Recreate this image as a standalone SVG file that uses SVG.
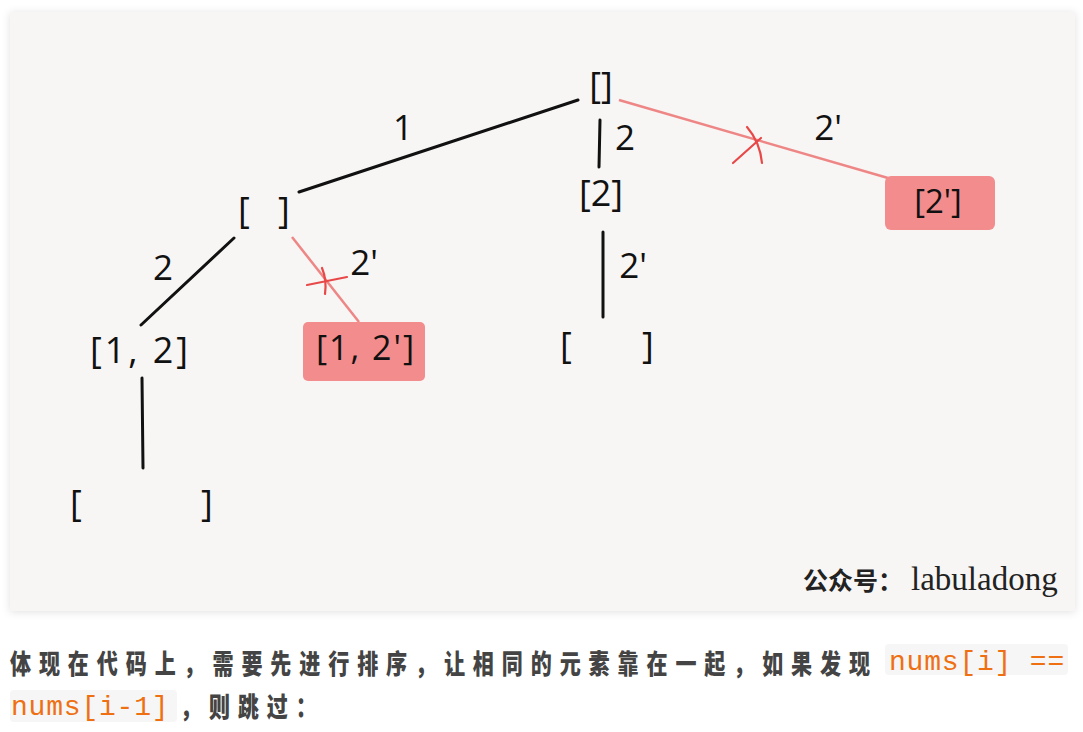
<svg xmlns="http://www.w3.org/2000/svg" width="1083" height="732" viewBox="0 0 1083 732">
<defs>
<style>
.t{font-family:"Open Sans","Liberation Sans",sans-serif;font-size:36px;font-weight:500;fill:#111}
.lb{font-family:"Open Sans","Liberation Sans",sans-serif;font-size:35px;font-weight:500;fill:#111;text-anchor:middle}
.edge{stroke:#111;stroke-width:3;stroke-linecap:round;fill:none}
.red{stroke:#ee8686;stroke-width:2.5;fill:none}
.x{stroke:#e84848;stroke-width:2.2;fill:none;stroke-linecap:round}
.box{fill:#f38c8c}
.cjk{font-family:"Noto Sans CJK SC","Noto Sans",sans-serif;font-weight:900;font-size:27px;fill:#444;letter-spacing:10.1px}
.code{font-family:"Liberation Mono",monospace;font-size:28px;fill:#ee7012;letter-spacing:0.8px}
.cbg{fill:#f6f6f6}
</style>
<filter id="sh" x="-5%" y="-5%" width="110%" height="110%">
<feDropShadow dx="0" dy="1" stdDeviation="4" flood-color="#000" flood-opacity="0.12"/>
</filter>
</defs>
<rect width="1083" height="732" fill="#ffffff"/>
<rect x="10" y="12" width="1065" height="599" fill="#f7f6f4" filter="url(#sh)"/>

<g id="connectors">
<line class="edge" x1="578" y1="100" x2="299" y2="192"/>
<line class="edge" x1="600" y1="120" x2="599" y2="167"/>
<line class="red" x1="619" y1="100" x2="888" y2="178"/>
<line class="edge" x1="234" y1="238" x2="141" y2="325"/>
<line class="red" x1="292" y1="237" x2="359" y2="322"/>
<line class="edge" x1="142" y1="378" x2="143" y2="468"/>
<line class="edge" x1="603" y1="232" x2="603" y2="317"/>
<path class="x" d="M733 163 L761 138"/>
<path class="x" d="M747 127 Q760 142 762 163"/>
<path class="x" d="M307 285 L347 277"/>
<path class="x" d="M322 268 Q327 280 325 294"/>
<text class="lb" x="403" y="140">1</text>
<text class="lb" x="625" y="150">2</text>
<text class="lb" x="828" y="140">2'</text>
<text class="lb" x="163" y="280">2</text>
<text class="lb" x="364" y="275">2'</text>
<text class="lb" x="633" y="278">2'</text>
</g>

<g id="root"><text class="t" x="601" y="98" text-anchor="middle">[]</text></g>
<g id="n2"><text class="t" x="601" y="206" text-anchor="middle">[2]</text></g>
<g id="n2p"><rect class="box" x="885" y="176" width="110" height="54" rx="6"/><text class="t" x="938" y="213" text-anchor="middle" style="font-size:33px">[2']</text></g>
<g id="n1"><text class="t" y="223"><tspan x="238">[</tspan><tspan x="278">]</tspan></text></g>
<g id="n12"><text class="t" x="90" y="363" textLength="98" lengthAdjust="spacing">[1, 2]</text></g>
<g id="n12p"><rect class="box" x="303" y="322" width="122" height="59" rx="5"/><text class="t" x="316" y="360" textLength="98" lengthAdjust="spacing" style="font-size:34px">[1, 2']</text></g>
<g id="n12leaf"><text class="t" y="516"><tspan x="70">[</tspan><tspan x="201">]</tspan></text></g>
<g id="n2leaf"><text class="t" y="358"><tspan x="560">[</tspan><tspan x="642">]</tspan></text></g>

<g id="watermark">
<text x="803" y="590" style="font-family:'Noto Sans CJK SC',sans-serif;font-weight:bold;font-size:25px;fill:#222">公众号：</text>
<text x="911" y="590" style="font-family:'Liberation Serif',serif;font-size:33px;fill:#222">labuladong</text>
</g>

<g id="caption">
<rect class="cbg" x="885" y="644" width="183" height="31" rx="4"/>
<rect class="cbg" x="10" y="690" width="167" height="32" rx="4"/>
<text class="cjk" transform="translate(10,674) scale(0.78,1)">体现在代码上，需要先进行排序，让相同的元素靠在一起，如果发现</text>
<text class="code" x="889" y="670" xml:space="preserve">nums[i] ==</text>
<text class="code" x="11" y="715">nums[i-1]</text>
<text class="cjk" transform="translate(180,717) scale(0.78,1)">，则跳过：</text>
</g>
</svg>
